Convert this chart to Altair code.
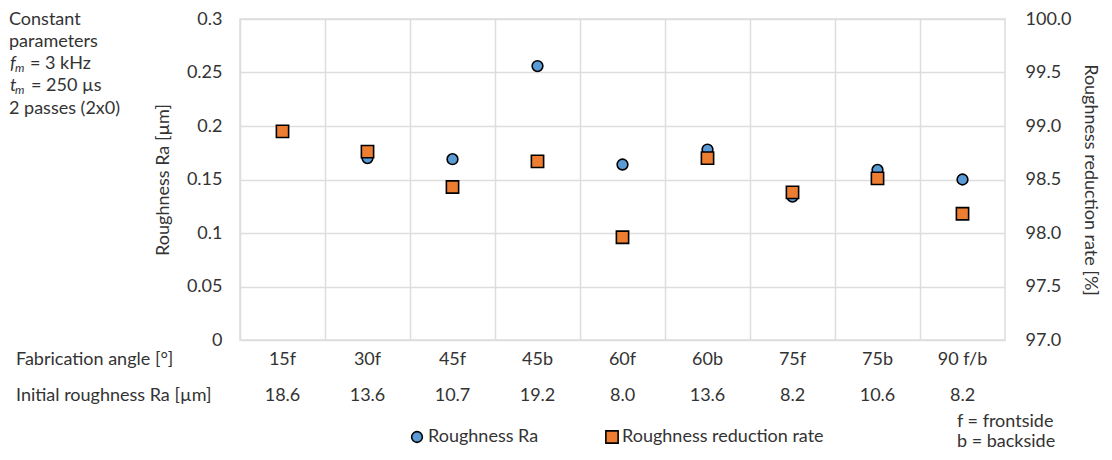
import altair as alt
import pandas as pd

categories = ["15f", "30f", "45f", "45b", "60f", "60b", "75f", "75b", "90 f/b"]
initial_ra = ["18.6", "13.6", "10.7", "19.2", "8.0", "13.6", "8.2", "10.6", "8.2"]
roughness_ra = [0.195, 0.170, 0.169, 0.256, 0.164, 0.178, 0.134, 0.159, 0.150]
reduction_rate = [98.95, 98.76, 98.43, 98.67, 97.96, 98.70, 98.38, 98.51, 98.18]

ra_ticks = [0, 0.05, 0.1, 0.15, 0.2, 0.25, 0.3]
rate_ticks = [97.0, 97.5, 98.0, 98.5, 99.0, 99.5, 100.0]

BLUE = "#5B9BD5"
ORANGE = "#ED7D31"
TXT = "#333333"
GRID = "#DDDDDD"
FONT = "Lato"
FS = 18

ox, oy = 240, 19
W, H = 765, 340 - oy

df = pd.DataFrame({
    "cat": categories,
    "init": initial_ra,
    "ra": roughness_ra,
    "rate": reduction_rate,
})

xenc = alt.X("cat:N", sort=categories,
             scale=alt.Scale(type="band", paddingInner=0, paddingOuter=0),
             axis=alt.Axis(bandPosition=0, grid=True, gridColor=GRID, gridWidth=1.5,
                           labels=False, ticks=False, domain=False, title=None))

base = alt.Chart(df)

circles = base.mark_point(shape="circle", filled=True, size=115, fill=BLUE,
                          stroke="black", strokeWidth=1.6, opacity=1).encode(
    x=xenc,
    y=alt.Y("ra:Q", scale=alt.Scale(domain=[0, 0.3], nice=False, zero=False),
            axis=alt.Axis(values=ra_ticks, format="~g", grid=True, gridColor=GRID,
                          gridWidth=1.5, ticks=False, domain=False, labelPadding=18,
                          title="Roughness Ra [µm]", titlePadding=14)),
)

squares = base.mark_point(shape="square", filled=True, size=150, fill=ORANGE,
                          stroke="black", strokeWidth=1.6, opacity=1).encode(
    x=xenc,
    y=alt.Y("rate:Q", scale=alt.Scale(domain=[97, 100], nice=False, zero=False),
            axis=alt.Axis(values=rate_ticks, format=".1f", orient="right", grid=False,
                          ticks=False, domain=False, labelPadding=20,
                          title="Roughness reduction rate [%]", titlePadding=9)),
)

row1 = base.mark_text(font=FONT, fontSize=FS, color=TXT, baseline="middle").encode(
    x=xenc, y=alt.value(360 - oy), text="cat:N")
row2 = base.mark_text(font=FONT, fontSize=FS, color=TXT, baseline="middle").encode(
    x=xenc, y=alt.value(396 - oy), text="init:N")

def label(txt, x, y, size=FS, style="normal", align="left"):
    return alt.Chart(pd.DataFrame({"t": [txt]})).mark_text(
        font=FONT, fontSize=size, fontStyle=style, color=TXT, align=align,
        baseline="middle").encode(x=alt.value(x), y=alt.value(y), text="t:N")

notes = [
    label("Fabrication angle [°]", 16 - ox, 360 - oy),
    label("Initial roughness Ra [µm]", 16 - ox, 396 - oy),
    label("Constant", 9 - ox, 20 - oy),
    label("parameters", 9 - ox, 42 - oy),
    label("f", 10 - ox, 64 - oy, style="italic"),
    label("m", 15 - ox, 68 - oy, size=12, style="italic"),
    label("= 3 kHz", 30 - ox, 64 - oy),
    label("t", 10 - ox, 86 - oy, style="italic"),
    label("m", 15 - ox, 90 - oy, size=12, style="italic"),
    label("= 250 µs", 31 - ox, 86 - oy),
    label("2 passes (2x0)", 9 - ox, 109 - oy),
    label("Roughness Ra", 428 - ox, 437 - oy),
    label("Roughness reduction rate", 622 - ox, 437 - oy),
    label("f = frontside", 957 - ox, 422 - oy),
    label("b = backside", 957 - ox, 442 - oy),
]

leg_c = alt.Chart(pd.DataFrame({"k": [1]})).mark_point(
    shape="circle", filled=True, size=115, fill=BLUE, stroke="black",
    strokeWidth=1.6, opacity=1).encode(x=alt.value(417 - ox), y=alt.value(437 - oy))
leg_s = alt.Chart(pd.DataFrame({"k": [1]})).mark_point(
    shape="square", filled=True, size=150, fill=ORANGE, stroke="black",
    strokeWidth=1.6, opacity=1).encode(x=alt.value(612 - ox), y=alt.value(437 - oy))

chart = alt.layer(circles, squares, row1, row2, leg_c, leg_s, *notes).resolve_scale(
    y="independent"
).properties(
    width=W, height=H,
    autosize=alt.AutoSizeParams(type="none"),
    padding={"left": ox - 8, "top": oy - 8, "right": 1096 - (ox - 8) - W,
             "bottom": 444 - (oy - 8) - H},
).configure_view(
    stroke=GRID, strokeWidth=1.5
).configure_axis(
    labelFont=FONT, labelFontSize=FS, labelColor=TXT,
    titleFont=FONT, titleFontSize=FS, titleColor=TXT, titleFontWeight="normal",
)

chart.save("out.html", embed_options={"renderer": "svg", "actions": False})
